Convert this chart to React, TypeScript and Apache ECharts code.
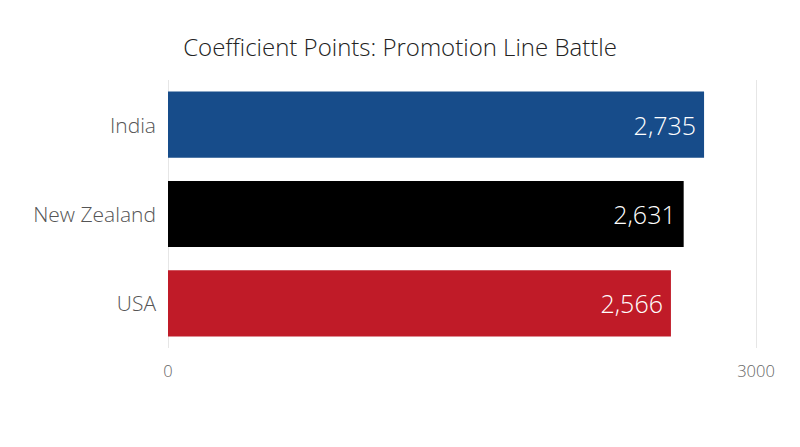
import { useEffect, useRef } from 'react'
import * as echarts from 'echarts'

const countries = ['India', 'New Zealand', 'USA']
const points = [2735, 2631, 2566]
const barColors = ['#174c8a', '#000000', '#c01b28']
const axisTicks = [0, 3000]

export default function App() {
  const chartRef = useRef<HTMLDivElement>(null)

  useEffect(() => {
    if (!chartRef.current) return
    const chart = echarts.init(chartRef.current, undefined, { renderer: 'svg' })

    const option: echarts.EChartsOption = {
      animation: false,
      backgroundColor: '#ffffff',
      textStyle: { fontFamily: '"Open Sans", sans-serif' },
      title: {
        text: 'Coefficient Points: Promotion Line Battle',
        left: 'center',
        top: 29,
        textStyle: { fontSize: 24, fontWeight: 300, color: '#222222', fontFamily: '"Open Sans", sans-serif' },
      },
      grid: { left: 168, right: 44, top: 80, bottom: 99 },
      xAxis: {
        type: 'value',
        min: axisTicks[0],
        max: axisTicks[1],
        interval: 3000,
        axisLine: { show: false },
        axisTick: { show: false },
        splitLine: { lineStyle: { color: '#e6e6e6', width: 1 } },
        axisLabel: { color: '#666666', fontSize: 16.5, fontWeight: 300, margin: 14, formatter: (v: number) => String(v) },
      },
      yAxis: {
        type: 'category',
        data: countries,
        inverse: true,
        axisLine: { show: false },
        axisTick: { show: false },
        axisLabel: { color: '#555555', fontSize: 21, fontWeight: 300, margin: 12 },
      },
      series: [
        {
          type: 'bar',
          barWidth: '74%',
          data: points.map((v, i) => ({ value: v, itemStyle: { color: barColors[i] } })),
          label: {
            show: true,
            position: 'insideRight',
            distance: 8,
            color: '#ffffff',
            fontSize: 25,
            fontWeight: 300,
            formatter: (p: any) => Number(p.value).toLocaleString('en-US'),
          },
        },
      ],
    }

    chart.setOption(option)
    return () => chart.dispose()
  }, [])

  return <div ref={chartRef} style={{ position: 'fixed', left: 0, top: 0, width: 800, height: 447 }} />
}
